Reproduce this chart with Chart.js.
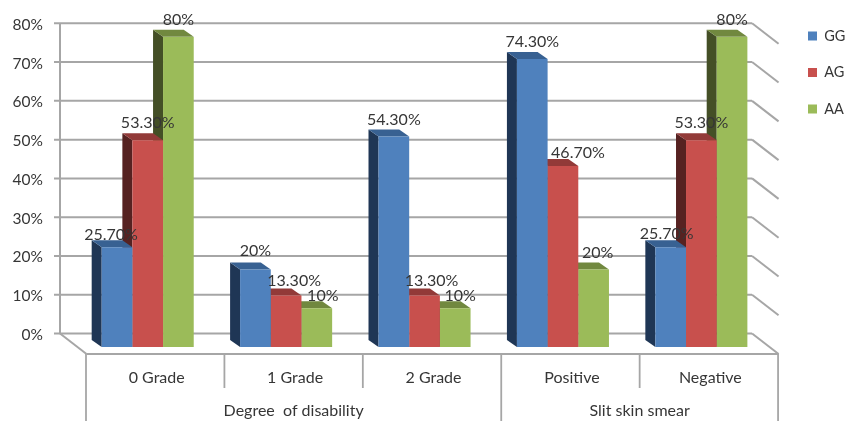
<!DOCTYPE html>
<html>
<head>
<meta charset="utf-8">
<script src="https://cdn.jsdelivr.net/npm/chart.js@4"></script>
<style>
  html, body { margin:0; padding:0; background:#fff; }
  canvas { display:block; }
</style>
</head>
<body>
<canvas id="chart" width="845" height="421"></canvas>
<script>
const categories = ['0 Grade','1 Grade','2 Grade','Positive','Negative'];
const groupNames = ['Degree  of disability','Slit skin smear'];
const groupSizes = [3,2];
const gg = [25.7,20,54.3,74.3,25.7];
const ag = [53.3,13.3,13.3,46.7,53.3];
const aa = [80,10,10,20,80];
const yTicks = [0,10,20,30,40,50,60,70,80];

const FONT = 'Lato, "Open Sans", sans-serif';
const TEXT = '#363636';
const LINE = '#a6a6a6';

// one look per series: front, left side, top
const looks = [
  { front:'#4f81bd', side:'#1f3655', top:'#386192' },
  { front:'#c8504d', side:'#562221', top:'#923a38' },
  { front:'#9bbb59', side:'#444f26', top:'#71883f' },
];

// hand placed data labels in the original, moved off the bar centre [x,y] per series and category
const labelShift = [
  [[-6,4],[0,-2],[0,0],[0,0],[-4,3]],
  [[0,0],[8,2],[7,2],[15,4],[0,0]],
  [[0,0],[6,5],[5,5],[4,0],[0,0]],
];

const wall = { dx:-18.5, dy:-13.5, deepX:26.5, deepY:20.5 };
const barDepth = { x:-10, y:-7 };
const cellShift = 7.5;

function fmtLabel(v) {
  return Number.isInteger(v) ? v + '%' : v.toFixed(2) + '%';
}

function seg(ctx, x1, y1, x2, y2) {
  ctx.beginPath(); ctx.moveTo(x1,y1); ctx.lineTo(x2,y2); ctx.stroke();
}

function poly(ctx, pts, color) {
  ctx.fillStyle = color;
  ctx.beginPath();
  pts.forEach((p,i) => i ? ctx.lineTo(p[0],p[1]) : ctx.moveTo(p[0],p[1]));
  ctx.closePath();
  ctx.fill();
}

const box3d = {
  id:'box3d',
  afterLayout(chart) {
    // legend sits further right than the layout would put it
    chart.legend.left = 786;
    chart.legend.right = 845;
    chart.legend.top = 6.75;
  },
  beforeDatasetsDraw(chart) {
    const { ctx, chartArea:a, scales:{x,y} } = chart;
    const left = a.left + wall.dx, right = a.right + wall.dx;
    ctx.save();
    ctx.strokeStyle = LINE;
    ctx.lineWidth = 2;

    // back wall, right wall edges, ticks
    yTicks.forEach(v => {
      const py = y.getPixelForValue(v) + wall.dy;
      seg(ctx, left - 6, py, right, py);
      seg(ctx, right, py, right + wall.deepX, py + wall.deepY);
    });
    seg(ctx, left, y.getPixelForValue(80) + wall.dy, left, y.getPixelForValue(0) + wall.dy);

    // floor
    const by = y.getPixelForValue(0) + wall.dy;
    const fy = by + wall.deepY;
    seg(ctx, left, by, left + wall.deepX, fy);
    seg(ctx, left + wall.deepX, fy, right + wall.deepX, fy);

    // category table below the floor
    const band = (a.right - a.left) / categories.length;
    ctx.lineWidth = 1.8;
    let k = 0;
    const edges = new Set([0]);
    groupSizes.forEach(n => { k += n; edges.add(k); });
    for (let i = 0; i <= categories.length; i++) {
      const px = a.left + cellShift + band * i;
      seg(ctx, px, fy, px, edges.has(i) ? 421 : fy + 34);
    }

    ctx.fillStyle = TEXT;
    ctx.font = '16px ' + FONT;
    ctx.textAlign = 'center';
    ctx.textBaseline = 'middle';
    k = 0;
    groupNames.forEach((name,i) => {
      const mid = a.left + cellShift + band * (k + groupSizes[i] / 2);
      ctx.fillText(name, mid, 411);
      k += groupSizes[i];
    });

    // side and top faces, last series first so the nearer bars cover them
    for (let d = chart.data.datasets.length - 1; d >= 0; d--) {
      const look = looks[d];
      chart.getDatasetMeta(d).data.forEach(bar => {
        const x0 = bar.x - bar.width / 2, x1 = bar.x + bar.width / 2;
        const dx = barDepth.x, dy = barDepth.y;
        poly(ctx, [[x0,bar.y],[x0+dx,bar.y+dy],[x0+dx,bar.base+dy],[x0,bar.base]], look.side);
        poly(ctx, [[x0,bar.y],[x1,bar.y],[x1+dx,bar.y+dy],[x0+dx,bar.y+dy]], look.top);
      });
    }
    ctx.restore();
  },
  afterDatasetsDraw(chart) {
    const { ctx } = chart;
    ctx.save();
    ctx.fillStyle = TEXT;
    ctx.font = '16px ' + FONT;
    ctx.textAlign = 'center';
    ctx.textBaseline = 'middle';
    chart.data.datasets.forEach((ds,d) => {
      chart.getDatasetMeta(d).data.forEach((bar,i) => {
        const s = labelShift[d][i];
        ctx.fillText(fmtLabel(ds.data[i]), bar.x + s[0], bar.y - 17 + s[1]);
      });
    });
    ctx.restore();
  }
};

new Chart(document.getElementById('chart').getContext('2d'), {
  type:'bar',
  plugins:[box3d],
  data:{
    labels:categories,
    datasets:[
      { label:'GG', data:gg, backgroundColor:looks[0].front },
      { label:'AG', data:ag, backgroundColor:looks[1].front },
      { label:'AA', data:aa, backgroundColor:looks[2].front },
    ]
  },
  options:{
    responsive:false,
    animation:false,
    devicePixelRatio:1,
    layout:{ padding:{ top:26, right:5 } },
    datasets:{ bar:{ categoryPercentage:0.665, barPercentage:1, borderWidth:0 } },
    plugins:{
      tooltip:{ enabled:false },
      legend:{
        position:'right',
        align:'start',
        labels:{ boxWidth:9, boxHeight:9, padding:22, color:TEXT, font:{ family:FONT, size:14.5 } }
      }
    },
    scales:{
      x:{
        afterFit: s => { s.height = 74; },
        grid:{ display:false },
        border:{ display:false },
        ticks:{ color:TEXT, padding:13, labelOffset:9, maxRotation:0, autoSkip:false, font:{ family:FONT, size:16 } }
      },
      y:{
        min:0, max:80,
        afterFit: s => { s.width = 78.5; },
        grid:{ display:false },
        border:{ display:false },
        ticks:{ stepSize:10, color:TEXT, padding:27.5, labelOffset:-12, font:{ family:FONT, size:15.5 }, callback:v => v + '%' }
      }
    }
  }
});
</script>
</body>
</html>
